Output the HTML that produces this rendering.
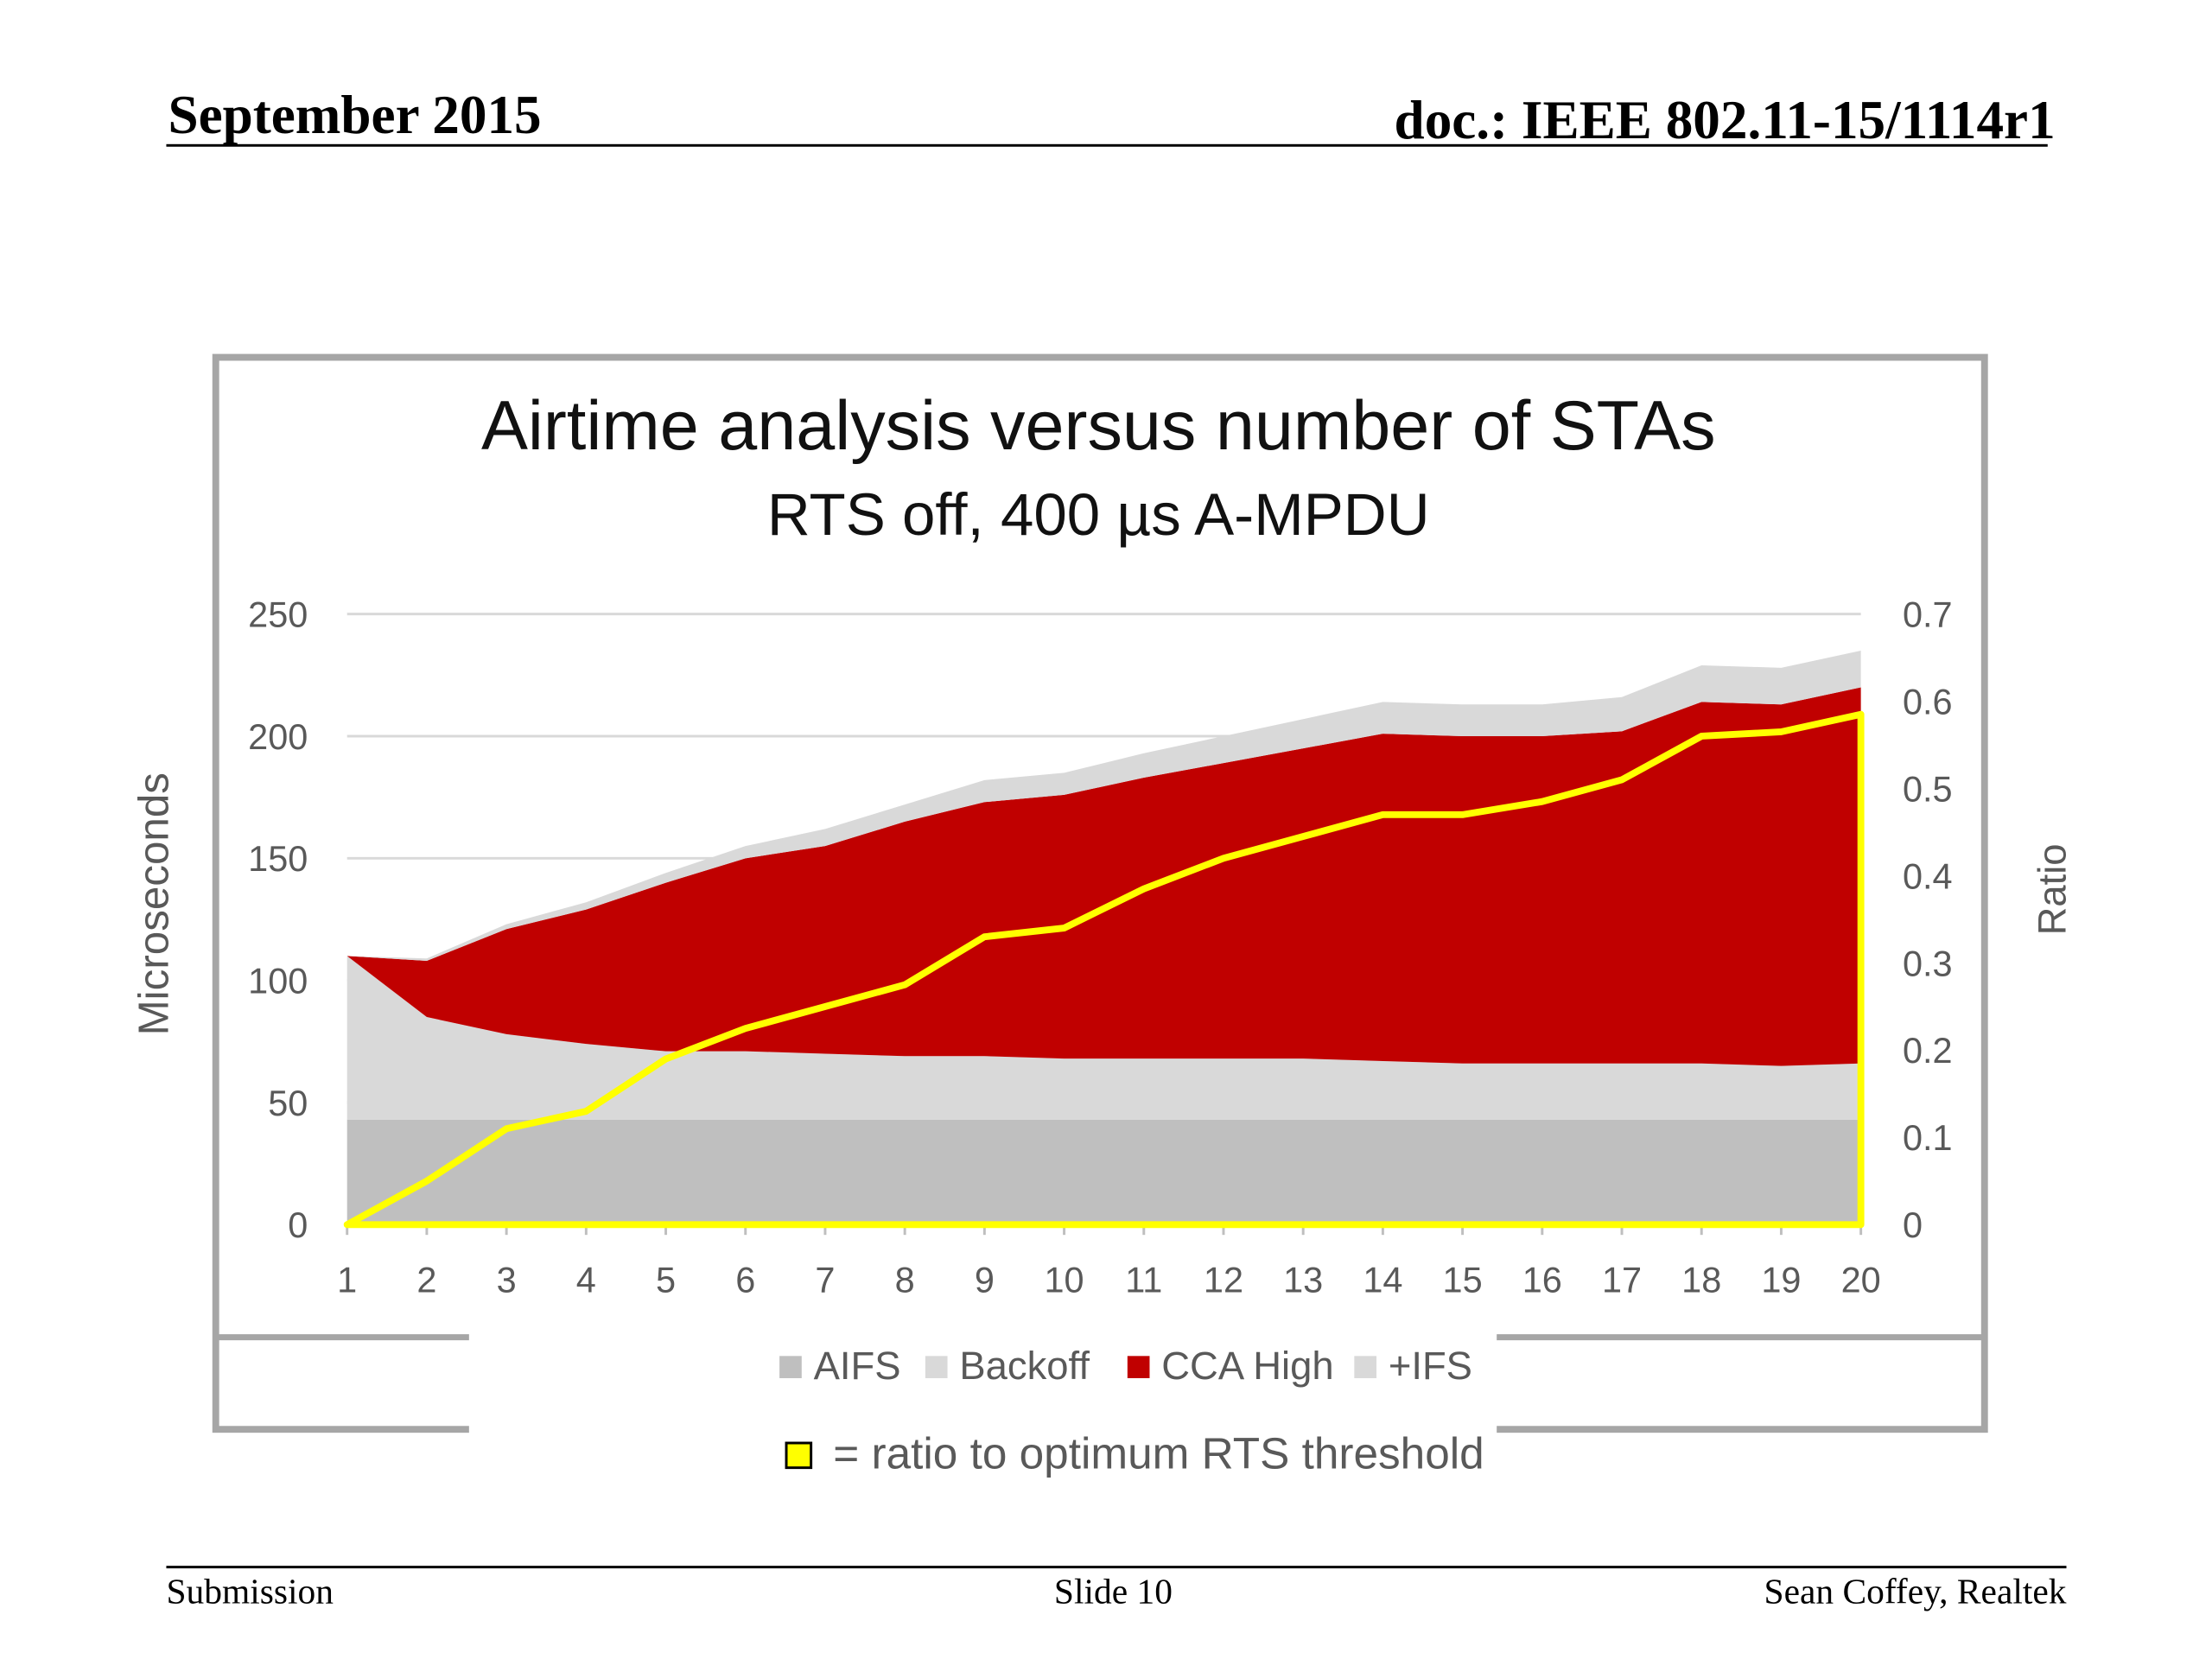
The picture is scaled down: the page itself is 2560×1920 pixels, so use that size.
<!DOCTYPE html>
<html><head><meta charset="utf-8">
<style>
html,body{margin:0;padding:0;background:#fff;}
body{width:2560px;height:1920px;position:relative;overflow:hidden;font-family:"Liberation Sans",sans-serif;}
#wrap{position:absolute;left:0;top:0;width:2560px;height:1920px;transform:scale(0.987);transform-origin:0 0;}
.serif{font-family:"Liberation Serif",serif;position:absolute;color:#000;}
</style></head>
<body>
<div id="wrap">
<div class="serif" style="left:197px;top:98px;font-size:64px;font-weight:bold;">September 2015</div>
<div class="serif" style="right:150px;top:104px;font-size:64px;font-weight:bold;">doc.: IEEE 802.11-15/1114r1</div>
<div style="position:absolute;left:195px;top:169px;width:2206px;height:3px;background:#000;"></div>
<svg id="chart" width="2560" height="1920" style="position:absolute;left:0;top:0;">
</svg>
<div style="position:absolute;left:195px;top:1836px;width:2228px;height:3px;background:#000;"></div>
<div class="serif" style="left:195px;top:1843px;font-size:42px;">Submission</div>
<div class="serif" style="left:1236px;top:1843px;font-size:42px;">Slide 10</div>
<div class="serif" style="right:137px;top:1843px;font-size:42px;">Sean Coffey, Realtek</div>
</div>
<script>
const categories=[1,2,3,4,5,6,7,8,9,10,11,12,13,14,15,16,17,18,19,20];
const aifs=[43,43,43,43,43,43,43,43,43,43,43,43,43,43,43,43,43,43,43,43];
const backoff=[67,42,35,31,28,28,27,26,26,25,25,25,25,24,23,23,23,23,22,23];
const ccaHigh=[0,23,43,55,69,79,85,96,104,108,115,121,127,134,134,134,136,148,148,154];
const ifs=[0,1,2,3,4,5,7,7,9,9,10,11,12,13,13,13,14,15,15,15];
const ratio=[0,0.05,0.11,0.13,0.19,0.225,0.25,0.275,0.33,0.34,0.385,0.42,0.445,0.47,0.47,0.485,0.51,0.56,0.565,0.585];
const leftTicks=[0,50,100,150,200,250];
const rightTicks=[0,0.1,0.2,0.3,0.4,0.5,0.6,0.7];
const NS="http://www.w3.org/2000/svg";
const svg=document.getElementById('chart');
const X0=407,X1=2182,Y0=1436,Y1=720;
function xs(i){return X0+(X1-X0)*i/(categories.length-1);}
function yl(v){return Y0-(Y0-Y1)*v/250;}
function yr(v){return Y0-(Y0-Y1)*v/0.7;}
function mk(tag,attrs){const e=document.createElementNS(NS,tag);for(const k in attrs)e.setAttribute(k,attrs[k]);svg.appendChild(e);return e;}
let fr=mk('rect',{x:253,y:419,width:2074,height:1257,fill:'#fff',stroke:'#a6a6a6','stroke-width':8});


let il=mk('line',{x1:253,x2:2327,y1:1568,y2:1568,stroke:'#a6a6a6','stroke-width':7});


let t=mk('text',{x:1288,y:527,'text-anchor':'middle','font-size':82,fill:'#111'});t.textContent='Airtime analysis versus number of STAs';


t=mk('text',{x:1288,y:627,'text-anchor':'middle','font-size':70,fill:'#111'});t.textContent='RTS off, 400 µs A-MPDU';


leftTicks.forEach(v=>{
  let g=mk('line',{x1:X0,x2:X1,y1:yl(v),y2:yl(v),stroke:'#d9d9d9','stroke-width':3});
  
  
  let l=mk('text',{x:361,y:yl(v)+15,'text-anchor':'end','font-size':42,fill:'#595959'});l.textContent=v;
  
  
});
rightTicks.forEach(v=>{
  let l=mk('text',{x:2231,y:yr(v)+15,'text-anchor':'start','font-size':42,fill:'#595959'});l.textContent=v;
  
  
});
const layers=[[aifs,'#bfbfbf','area-aifs'],[backoff,'#d9d9d9','area-backoff'],[ccaHigh,'#c00000','area-cca-high'],[ifs,'#d9d9d9','area-ifs']];
let base=categories.map(()=>0);
layers.forEach(([arr,col,name])=>{
  const top=base.map((b,i)=>b+arr[i]);
  let d='M'+categories.map((c,i)=>xs(i)+','+yl(top[i])).join(' L');
  for(let i=categories.length-1;i>=0;i--)d+=' L'+xs(i)+','+yl(base[i]);
  d+='Z';
  let p=mk('path',{d:d,fill:col});
  
  
  base=top;
});
mk('line',{x1:X0,x2:X1,y1:Y0,y2:Y0,stroke:'#d9d9d9','stroke-width':3});
categories.forEach((c,i)=>{
  mk('line',{x1:xs(i),x2:xs(i),y1:Y0,y2:Y0+12,stroke:'#bfbfbf','stroke-width':3});
  let l=mk('text',{x:xs(i),y:1515,'text-anchor':'middle','font-size':42,fill:'#595959'});l.textContent=c;
  
  
});
let d='M'+categories.map((c,i)=>xs(i)+','+yr(ratio[i])).join(' L')+' L'+X1+','+Y0+' L'+X0+','+Y0+'Z';
let rl=mk('path',{d:d,fill:'none',stroke:'#ffff00','stroke-width':8,'stroke-linejoin':'round'});


t=mk('text',{x:0,y:0,'text-anchor':'middle','font-size':50,fill:'#595959',transform:'translate(197,1060) rotate(-90)'});t.textContent='Microseconds';


t=mk('text',{x:0,y:0,'text-anchor':'middle','font-size':46,fill:'#595959',transform:'translate(2422,1043) rotate(-90)'});t.textContent='Ratio';


mk('rect',{x:550,y:1545,width:1205,height:194,fill:'#fff'});
const legNames=['AIFS','Backoff','CCA High','+IFS'];
const legCols=['#bfbfbf','#d9d9d9','#c00000','#d9d9d9'];
const legX=[914,1085,1322,1588];
legNames.forEach((n,i)=>{
  let s=mk('rect',{x:legX[i],y:1590,width:26,height:26,fill:legCols[i]});
  
  
  let l=mk('text',{x:legX[i]+40,y:1617,'font-size':46,fill:'#595959'});l.textContent=n;
  
  
});
let ys=mk('rect',{x:922,y:1692,width:29,height:29,fill:'#ffff00',stroke:'#000','stroke-width':3});


t=mk('text',{x:977,y:1722,'font-size':52,fill:'#595959'});t.textContent='= ratio to optimum RTS threshold';


</script>
</body></html>
